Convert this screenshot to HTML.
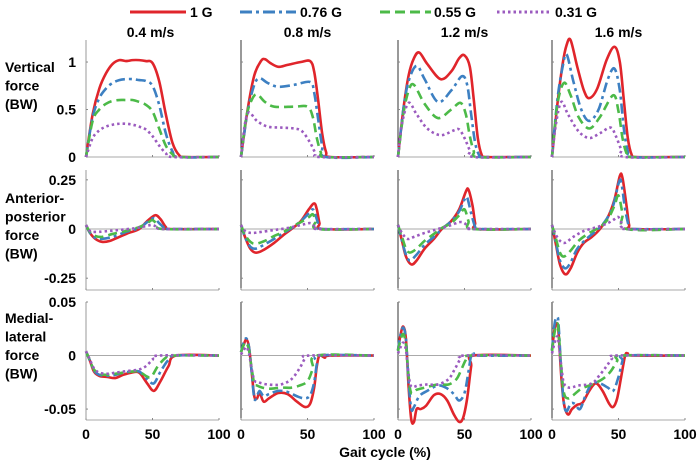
<!DOCTYPE html>
<html><head><meta charset="utf-8">
<style>
html,body{margin:0;padding:0;background:#fff;}
svg{display:block;font-family:"Liberation Sans",Arial,sans-serif;font-weight:bold;}
</style></head>
<body>
<svg id="chart" width="698" height="463" viewBox="0 0 698 463" xmlns="http://www.w3.org/2000/svg">
  <g id="legend">
    <g><line x1="130" y1="12" x2="186" y2="12" stroke="#e0252b" stroke-width="3"/><text x="190" y="17" font-size="14">1 G</text></g>
    <g><line x1="240" y1="12" x2="296" y2="12" stroke="#3d80c2" stroke-width="3" stroke-dasharray="12,4,3,4"/><text x="300" y="17" font-size="14">0.76 G</text></g>
    <g><line x1="380" y1="12" x2="431" y2="12" stroke="#4cba48" stroke-width="3" stroke-dasharray="10,5"/><text x="434" y="17" font-size="14">0.55 G</text></g>
    <g><line x1="497" y1="12" x2="552" y2="12" stroke="#9b5bbf" stroke-width="3" stroke-dasharray="2.5,3"/><text x="555" y="17" font-size="14">0.31 G</text></g>
  </g>
  <g id="panels"></g>
</svg>
<script>
const speeds = ['0.4 m/s','0.8 m/s','1.2 m/s','1.6 m/s'];
const xTicks = [0,50,100];
const vertTicks = ['0','0.5','1'];
const vertTickVals = [0,0.5,1];
const apTicks = ['-0.25','0','0.25'];
const apTickVals = [-0.25,0,0.25];
const mlTicks = ['-0.05','0','0.05'];
const mlTickVals = [-0.05,0,0.05];

// Each panel: [1G, 0.76G, 0.55G, 0.31G], points are [gait %, force BW]
const vert04 = [
 [[0,0],[5,0.45],[10,0.72],[15,0.88],[20,0.98],[25,1.02],[30,1.01],[35,1.02],[40,1.02],[45,1.01],[50,0.99],[55,0.8],[60,0.45],[65,0.15],[70,0.02],[75,0],[100,0]],
 [[0,0],[5,0.42],[10,0.62],[15,0.72],[20,0.78],[25,0.81],[30,0.82],[35,0.82],[40,0.81],[45,0.8],[50,0.75],[55,0.55],[60,0.25],[65,0.06],[70,0],[100,0]],
 [[0,0],[5,0.38],[10,0.5],[15,0.56],[20,0.59],[25,0.6],[30,0.6],[35,0.6],[40,0.58],[45,0.55],[50,0.48],[55,0.3],[60,0.12],[65,0.03],[70,0],[100,0]],
 [[0,0],[5,0.2],[10,0.28],[15,0.32],[20,0.34],[25,0.35],[30,0.35],[35,0.34],[40,0.32],[45,0.29],[50,0.22],[55,0.12],[60,0.04],[65,0],[100,0]]
];
const vert08 = [
 [[0,0],[5,0.5],[10,0.86],[15,1.01],[18,1.03],[22,0.99],[28,0.95],[35,0.97],[45,1.0],[52,1.01],[55,0.9],[58,0.6],[61,0.25],[64,0.05],[67,0],[100,0]],
 [[0,0],[5,0.48],[10,0.76],[14,0.83],[20,0.78],[28,0.74],[40,0.76],[52,0.79],[55,0.68],[58,0.4],[61,0.12],[64,0],[100,0]],
 [[0,0],[4,0.42],[8,0.6],[12,0.66],[18,0.58],[25,0.53],[40,0.53],[50,0.53],[54,0.42],[57,0.2],[60,0.05],[63,0],[100,0]],
 [[0,0],[3,0.35],[6,0.47],[12,0.38],[20,0.32],[30,0.31],[40,0.3],[46,0.27],[52,0.15],[56,0.04],[59,0],[100,0]]
];
const vert12 = [
 [[0,0],[4,0.5],[8,0.86],[12,1.04],[16,1.1],[22,0.98],[32,0.82],[40,0.9],[46,1.04],[50,1.07],[54,0.95],[57,0.6],[60,0.2],[63,0.02],[66,0],[100,0]],
 [[0,0],[4,0.5],[8,0.8],[14,0.96],[20,0.82],[30,0.58],[40,0.7],[48,0.85],[52,0.76],[55,0.45],[58,0.15],[61,0.02],[64,0],[100,0]],
 [[0,0],[4,0.45],[8,0.7],[12,0.76],[20,0.56],[30,0.41],[40,0.5],[47,0.57],[51,0.45],[54,0.22],[57,0.06],[60,0],[100,0]],
 [[0,0],[3,0.35],[8,0.57],[14,0.45],[22,0.3],[32,0.23],[42,0.28],[46,0.29],[50,0.2],[54,0.07],[57,0],[100,0]]
];
const vert16 = [
 [[0,0],[4,0.55],[8,0.98],[11,1.18],[14,1.23],[19,0.95],[24,0.7],[28,0.62],[34,0.72],[41,1.02],[47,1.16],[51,1.0],[54,0.6],[57,0.2],[60,0.02],[63,0],[100,0]],
 [[0,0],[4,0.6],[8,0.95],[11,1.08],[16,0.8],[22,0.5],[28,0.38],[35,0.5],[42,0.82],[47,0.93],[51,0.7],[54,0.3],[57,0.06],[60,0],[100,0]],
 [[0,0],[4,0.55],[9,0.78],[14,0.65],[20,0.42],[28,0.3],[36,0.42],[46,0.65],[50,0.48],[53,0.2],[56,0.04],[59,0],[100,0]],
 [[0,0],[3,0.35],[7,0.58],[12,0.45],[20,0.27],[28,0.2],[36,0.25],[44,0.31],[48,0.22],[52,0.08],[55,0],[100,0]]
];
const ap04 = [
 [[0,0.02],[3,-0.02],[7,-0.05],[12,-0.065],[18,-0.06],[25,-0.04],[32,-0.02],[40,0.0],[46,0.04],[52,0.07],[56,0.05],[60,0.01],[63,0],[100,0]],
 [[0,0.02],[3,-0.02],[7,-0.045],[12,-0.05],[20,-0.04],[30,-0.015],[40,0.005],[46,0.035],[51,0.055],[55,0.03],[59,0.005],[62,0],[100,0]],
 [[0,0.02],[3,-0.015],[7,-0.035],[12,-0.04],[20,-0.025],[30,-0.01],[40,0.01],[46,0.03],[50,0.045],[54,0.02],[58,0],[100,0]],
 [[0,0.02],[3,-0.01],[7,-0.015],[14,-0.012],[25,-0.005],[38,0.005],[45,0.015],[50,0.02],[54,0.008],[58,0],[100,0]]
];
const ap08 = [
 [[0,0.02],[3,-0.04],[7,-0.1],[11,-0.12],[16,-0.11],[25,-0.07],[32,-0.03],[38,0.0],[45,0.04],[51,0.1],[55,0.13],[57,0.1],[59,0.03],[61,0],[100,0]],
 [[0,0.02],[3,-0.04],[7,-0.09],[11,-0.1],[16,-0.085],[25,-0.05],[32,-0.02],[38,0.005],[45,0.04],[51,0.08],[54,0.1],[56,0.07],[59,0.01],[61,0],[100,0]],
 [[0,0.02],[3,-0.03],[7,-0.065],[11,-0.075],[18,-0.06],[25,-0.035],[32,-0.015],[38,0.01],[45,0.035],[51,0.06],[54,0.075],[56,0.04],[58,0],[100,0]],
 [[0,0.02],[3,-0.01],[8,-0.02],[15,-0.015],[25,-0.005],[35,0.005],[45,0.02],[52,0.03],[55,0.015],[58,0],[100,0]]
];
const ap12 = [
 [[0,0.02],[3,-0.06],[6,-0.14],[10,-0.18],[14,-0.16],[20,-0.1],[27,-0.05],[33,0.0],[40,0.04],[46,0.1],[51,0.19],[53,0.2],[56,0.12],[58,0.03],[60,0],[100,0]],
 [[0,0.02],[3,-0.06],[6,-0.13],[9,-0.16],[14,-0.13],[20,-0.08],[27,-0.04],[33,0.0],[40,0.04],[46,0.09],[50,0.15],[52,0.16],[55,0.08],[58,0.01],[60,0],[100,0]],
 [[0,0.02],[3,-0.04],[6,-0.1],[9,-0.12],[14,-0.1],[20,-0.06],[27,-0.025],[33,0.005],[40,0.03],[46,0.07],[50,0.1],[53,0.04],[56,0],[100,0]],
 [[0,0.02],[3,-0.02],[7,-0.05],[12,-0.04],[20,-0.02],[30,0.0],[40,0.02],[46,0.035],[50,0.03],[53,0.005],[55,0],[100,0]]
];
const ap16 = [
 [[0,0.02],[3,-0.08],[6,-0.18],[10,-0.23],[14,-0.2],[19,-0.12],[24,-0.07],[30,-0.04],[36,0.0],[42,0.06],[47,0.15],[51,0.27],[53,0.26],[56,0.12],[58,0.02],[60,0],[100,0]],
 [[0,0.02],[3,-0.07],[6,-0.16],[10,-0.2],[14,-0.17],[19,-0.1],[26,-0.05],[33,-0.01],[40,0.04],[46,0.12],[50,0.23],[52,0.24],[55,0.1],[58,0.01],[60,0],[100,0]],
 [[0,0.02],[3,-0.05],[6,-0.12],[9,-0.14],[14,-0.11],[20,-0.06],[28,-0.02],[36,0.01],[42,0.05],[47,0.12],[50,0.17],[53,0.08],[56,0],[100,0]],
 [[0,0.02],[3,-0.03],[6,-0.06],[10,-0.07],[16,-0.04],[24,-0.01],[34,0.01],[42,0.03],[47,0.05],[50,0.06],[53,0.02],[55,0],[100,0]]
];
const ml04 = [
 [[0,0.004],[3,-0.005],[6,-0.015],[10,-0.019],[16,-0.02],[22,-0.021],[28,-0.018],[34,-0.016],[40,-0.016],[46,-0.026],[51,-0.033],[56,-0.024],[62,-0.01],[68,0],[100,0]],
 [[0,0.004],[3,-0.005],[6,-0.014],[10,-0.018],[16,-0.019],[22,-0.018],[28,-0.016],[34,-0.015],[40,-0.015],[46,-0.022],[51,-0.026],[56,-0.015],[62,-0.004],[68,0],[100,0]],
 [[0,0.004],[3,-0.005],[6,-0.013],[10,-0.017],[16,-0.018],[22,-0.017],[28,-0.016],[34,-0.015],[40,-0.015],[45,-0.019],[49,-0.02],[54,-0.01],[60,-0.002],[65,0],[100,0]],
 [[0,0.004],[3,-0.004],[6,-0.012],[10,-0.016],[16,-0.017],[22,-0.016],[28,-0.015],[34,-0.014],[40,-0.013],[45,-0.01],[50,-0.004],[55,0],[100,0]]
];
const ml08 = [
 [[0,0.003],[2,0.01],[4,0.015],[6,0.008],[8,-0.015],[10,-0.038],[12,-0.04],[14,-0.035],[17,-0.043],[21,-0.04],[28,-0.035],[35,-0.036],[42,-0.043],[48,-0.048],[52,-0.045],[55,-0.03],[57,-0.01],[59,0],[63,-0.002],[67,0],[100,0]],
 [[0,0.003],[2,0.012],[4,0.016],[6,0.008],[8,-0.015],[10,-0.04],[12,-0.038],[14,-0.033],[17,-0.038],[21,-0.036],[28,-0.033],[35,-0.034],[42,-0.038],[48,-0.04],[52,-0.037],[55,-0.025],[57,-0.008],[59,0],[100,0]],
 [[0,0.003],[2,0.01],[4,0.012],[6,0.005],[8,-0.012],[10,-0.026],[12,-0.028],[16,-0.03],[22,-0.031],[30,-0.03],[38,-0.03],[44,-0.028],[50,-0.024],[54,-0.012],[57,0],[100,0]],
 [[0,0.001],[2,0.005],[4,0.008],[6,0.002],[8,-0.012],[10,-0.023],[13,-0.025],[20,-0.027],[30,-0.027],[38,-0.022],[44,-0.012],[48,-0.003],[51,0],[100,0]]
];
const ml12 = [
 [[0,0.005],[2,0.02],[4,0.027],[6,0.015],[8,-0.03],[10,-0.06],[12,-0.062],[14,-0.05],[17,-0.05],[21,-0.047],[27,-0.037],[32,-0.036],[37,-0.042],[42,-0.055],[46,-0.062],[49,-0.058],[52,-0.04],[55,-0.01],[57,0],[100,0]],
 [[0,0.005],[2,0.02],[4,0.026],[6,0.015],[8,-0.025],[10,-0.05],[12,-0.048],[16,-0.038],[22,-0.033],[30,-0.028],[36,-0.03],[42,-0.036],[46,-0.042],[50,-0.035],[53,-0.015],[55,0],[57,0.002],[60,0],[100,0]],
 [[0,0.004],[2,0.015],[4,0.02],[6,0.01],[8,-0.02],[10,-0.035],[14,-0.032],[20,-0.03],[30,-0.027],[38,-0.027],[44,-0.022],[48,-0.012],[51,-0.004],[54,0],[100,0]],
 [[0,0.002],[2,0.008],[4,0.012],[6,0.005],[8,-0.018],[10,-0.029],[15,-0.028],[22,-0.027],[30,-0.027],[38,-0.022],[43,-0.012],[47,-0.003],[50,0],[100,0]]
];
const ml16 = [
 [[0,0.005],[2,0.025],[4,0.03],[5,0.02],[7,-0.02],[9,-0.045],[12,-0.055],[15,-0.05],[19,-0.046],[23,-0.044],[28,-0.033],[33,-0.026],[38,-0.033],[43,-0.045],[46,-0.048],[49,-0.04],[52,-0.02],[55,0],[57,0.002],[60,0],[100,0]],
 [[0,0.005],[2,0.03],[4,0.036],[5,0.028],[7,-0.015],[9,-0.045],[11,-0.052],[14,-0.045],[17,-0.045],[21,-0.05],[25,-0.038],[30,-0.026],[36,-0.026],[42,-0.03],[46,-0.033],[50,-0.02],[53,-0.005],[55,0],[100,0]],
 [[0,0.004],[2,0.022],[4,0.03],[5,0.022],[7,-0.012],[9,-0.035],[12,-0.04],[16,-0.037],[22,-0.031],[30,-0.027],[38,-0.022],[44,-0.015],[49,-0.005],[52,0],[100,0]],
 [[0,0.002],[2,0.012],[4,0.018],[5,0.012],[7,-0.01],[9,-0.026],[13,-0.03],[20,-0.028],[30,-0.026],[36,-0.018],[41,-0.01],[45,-0.003],[48,0],[100,0]]
];

const vertData = [vert04, vert08, vert12, vert16];
const apData = [ap04, ap08, ap12, ap16];
const mlData = [ml04, ml08, ml12, ml16];
const gravities = ['1g','076g','055g','031g'];

const NS = 'http://www.w3.org/2000/svg';
const root = document.getElementById('panels');
const colX = [86, 241, 398, 552];
const panelW = 133;
const rows = [
  {key:'vertical', data: vertData, top:40, bottom:157, vmin:0, vmax:1.232, ticks:vertTickVals, labels:vertTicks, title:['Vertical','force','(BW)'], titleY:72, zero:false},
  {key:'anterior-posterior', data: apData, top:170, bottom:290, vmin:-0.31, vmax:0.30, ticks:apTickVals, labels:apTicks, title:['Anterior-','posterior','force','(BW)'], titleY:203, zero:true},
  {key:'medial-lateral', data: mlData, top:302, bottom:420, vmin:-0.0602, vmax:0.05, ticks:mlTickVals, labels:mlTicks, title:['Medial-','lateral','force','(BW)'], titleY:323, zero:true}
];
const styles = [
  {c:'#e0252b', d:''},
  {c:'#3d80c2', d:'10,4,3,4'},
  {c:'#4cba48', d:'9,5'},
  {c:'#9b5bbf', d:'2.5,3'}
];

function mk(tag, attrs, parent){
  const e = document.createElementNS(NS, tag);
  for (const k in attrs) e.setAttribute(k, attrs[k]);
  parent.appendChild(e);
  return e;
}
function xScale(ci, p){ return colX[ci] + p/100*panelW; }
function yScale(r, v){ return r.bottom - (v - r.vmin)/(r.vmax - r.vmin)*(r.bottom - r.top); }
function smoothPath(pts){
  let d = 'M' + pts[0][0].toFixed(2) + ',' + pts[0][1].toFixed(2);
  for (let i=0;i<pts.length-1;i++){
    const p0 = pts[i-1]||pts[i], p1=pts[i], p2=pts[i+1], p3=pts[i+2]||pts[i+1];
    const c1x = p1[0]+(p2[0]-p0[0])/6, c1y = p1[1]+(p2[1]-p0[1])/6;
    const c2x = p2[0]-(p3[0]-p1[0])/6, c2y = p2[1]-(p3[1]-p1[1])/6;
    d += ' C'+c1x.toFixed(2)+','+c1y.toFixed(2)+' '+c2x.toFixed(2)+','+c2y.toFixed(2)+' '+p2[0].toFixed(2)+','+p2[1].toFixed(2);
  }
  return d;
}

speeds.forEach((s, ci) => {
  const t = mk('text', {x: xScale(ci,50)+(ci==0?-2:0), y: 37, 'font-size': 14, 'text-anchor':'middle'}, root);
  
  
  t.textContent = s;
});

rows.forEach((r, ri) => {
  const tt = mk('text', {x:5, y:r.titleY, 'font-size':14}, root);
  
  
  r.title.forEach((line, li) => {
    const ts = mk('tspan', {x:5, dy: li==0?0:18.5}, tt);
    ts.textContent = line;
  });
  r.ticks.forEach((v, ti) => {
    const lt = mk('text', {x:76, y: yScale(r,v)+5, 'font-size':14, 'text-anchor':'end'}, root);
    
    
    lt.textContent = r.labels[ti];
  });
  for (let ci=0; ci<4; ci++){
    const g = mk('g', {}, root);
    
    
    const x0 = colX[ci], x1 = colX[ci]+panelW;
    const ax = mk('line', {x1:x0, y1:r.top, x2:x0, y2:r.bottom, stroke: ci==0?'#999':'#333', 'stroke-width':1}, g);
    
    
    const bx = mk('line', {x1:x0, y1:r.bottom, x2:x1, y2:r.bottom, stroke:'#aaa', 'stroke-width':1}, g);
    
    
    r.ticks.forEach(v => { mk('line', {x1:x0, y1:yScale(r,v), x2:x0+2, y2:yScale(r,v), stroke:'#888'}, g); });
    xTicks.forEach(v => { mk('line', {x1:xScale(ci,v), y1:r.bottom, x2:xScale(ci,v), y2:r.bottom-2, stroke:'#888'}, g); });
    if (r.zero){
      const z = mk('line', {x1:x0, y1:yScale(r,0), x2:x1, y2:yScale(r,0), stroke:'#aaa', 'stroke-width':1}, g);
      
      
    }
    const series = r.data[ci];
    for (let si=0; si<series.length; si++){
      const pts = series[si].map(p => [xScale(ci,p[0]), yScale(r,p[1])]);
      const path = mk('path', {d: smoothPath(pts), fill:'none', stroke: styles[si].c, 'stroke-width': 2.6, 'stroke-linejoin':'round'}, g);
      if (styles[si].d) path.setAttribute('stroke-dasharray', styles[si].d);
      
      
    }
    if (ri == 2){
      xTicks.forEach(v => {
        const xl = mk('text', {x: xScale(ci,v), y: 439, 'font-size':14, 'text-anchor':'middle'}, root);
        
        
        xl.textContent = v;
      });
    }
  }
});
const xt = mk('text', {x:385, y:457, 'font-size':14, 'text-anchor':'middle'}, root);


xt.textContent = 'Gait cycle (%)';
</script>
</body></html>
